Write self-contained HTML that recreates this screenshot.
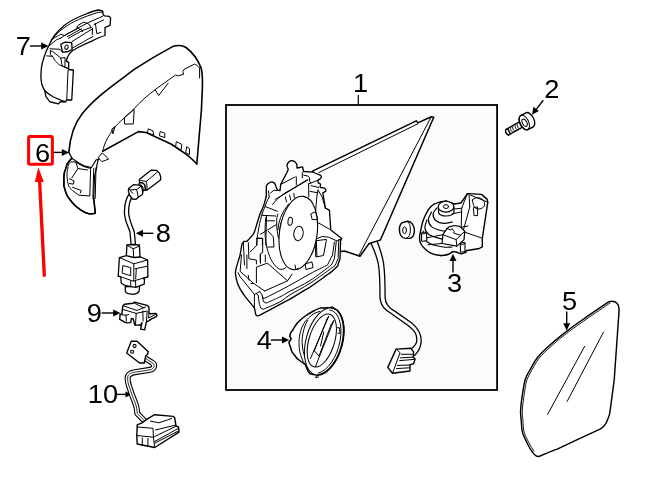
<!DOCTYPE html>
<html><head><meta charset="utf-8"><title>Mirror parts diagram</title>
<style>
html,body{margin:0;padding:0;background:#fff;width:646px;height:479px;overflow:hidden}
svg{display:block;position:absolute;left:0;top:0;will-change:transform}
text{font-family:"Liberation Sans",sans-serif;font-size:25px;fill:#000}
.s{fill:none;stroke:#000;stroke-width:1.3;stroke-linejoin:round;stroke-linecap:round}
.w{fill:#fff;stroke:#000;stroke-width:1.3;stroke-linejoin:round;stroke-linecap:round}
.t{fill:none;stroke:#000;stroke-width:1;stroke-linejoin:round;stroke-linecap:round}
.k{fill:none;stroke:#000;stroke-width:1.6;stroke-linejoin:round;stroke-linecap:round}
</style></head>
<body>
<svg width="646" height="479" viewBox="0 0 646 479">
<!-- box around part 1 -->
<rect x="226" y="105" width="271.1" height="285" fill="#fbfbfb" stroke="#000" stroke-width="1.8"/>
<line x1="358.3" y1="95" x2="358.3" y2="105" stroke="#000" stroke-width="1.2"/>

<!-- labels -->
<text transform="translate(15.87 55.0) scale(1.09 1)">7</text>
<text transform="translate(35.07 161.8) scale(1.09 1)">6</text>
<text transform="translate(155.67 241.9) scale(1.09 1)">8</text>
<text transform="translate(86.77 322.1) scale(1.09 1)">9</text>
<text transform="translate(87.86 403.0) scale(1.09 1)">10</text>
<text transform="translate(353.02 91.8) scale(1.09 1)">1</text>
<text transform="translate(544.3 98.4) scale(1.09 1)">2</text>
<text transform="translate(447.06 292.4) scale(1.09 1)">3</text>
<text transform="translate(256.75 348.8) scale(1.09 1)">4</text>
<text transform="translate(561.91 309.5) scale(1.09 1)">5</text>

<!-- arrows -->
<g stroke="#000" stroke-width="1.4" fill="#000">
<line x1="30" y1="46" x2="42" y2="46"/><path d="M48.5 46 L41.2 42.5 L41.2 49.5Z" stroke="none"/>
<line x1="51.5" y1="152.4" x2="63" y2="152.4"/><path d="M69 152.4 L61.8 148.9 L61.8 155.9Z" stroke="none"/>
<line x1="153.4" y1="233.3" x2="141" y2="233.3"/><path d="M135.8 233.3 L143 229.8 L143 236.8Z" stroke="none"/>
<line x1="101.6" y1="313" x2="114" y2="313"/><path d="M120.4 313 L113.2 309.5 L113.2 316.5Z" stroke="none"/>
<line x1="116.5" y1="394.4" x2="126" y2="394.4"/><path d="M131.2 394.4 L125.5 391.2 L125.5 397.6Z" stroke="none"/>
<line x1="270.8" y1="340" x2="283" y2="340"/><path d="M289.2 340 L282 336.5 L282 343.5Z" stroke="none"/>
<line x1="453" y1="272.5" x2="453" y2="260"/><path d="M453 253.8 L449.5 261 L456.5 261Z" stroke="none"/>
<line x1="566.7" y1="311.6" x2="566.7" y2="324"/><path d="M566.7 330.4 L563.2 323.2 L570.2 323.2Z" stroke="none"/>
<line x1="543.3" y1="100.3" x2="536" y2="109.6"/><path d="M532 114.7 L533.4 106.8 L538.9 111.1Z" stroke="none"/>
</g>

<!-- red highlight -->
<rect x="28.6" y="136.5" width="23.8" height="27.8" rx="1.2" fill="none" stroke="#ff0000" stroke-width="3"/>
<line x1="39.6" y1="181" x2="44.3" y2="275.3" stroke="#ff0000" stroke-width="3.3" stroke-linecap="round"/>
<path d="M38.3 167.2 L34.9 182 L43.8 182Z" fill="#ff0000"/>

<!-- PART 6 mirror cover -->
<g id="p6">
<path class="k" d="M68.8 152.5 C70 138 74 124 82 114 C96 96 118 82 134.6 69.2 C150 59 163 51.7 172.6 46.6 C178 44.8 183 45.5 186 47.5 C192 52 198 60 201 67.8 C203 74 202.6 82 202.3 90 L201.4 110 L196.8 164"/>
<path class="k" d="M196.8 164 C192 159 188 155.5 185.2 153.7 C180 150 175 146.5 169.9 143.5 L146.1 132.5 L138.4 131.6 L102.7 151.2"/>
<path class="t" d="M199.6 67.8 C198 66 196 64.5 194.5 64.1 L184.3 69.2 L182.8 71.4 L183.6 74.3 L178.4 75.8 L175.5 75.1 L168.2 80.2 L155.1 89.7 L158.7 95.5 L168.2 83.1 M155.1 89.7 C148 95 140 102 134.2 108.6 C126 117 119 122 115.4 126.5 C111 132 109 136 107.8 137.6 C105 143 103.5 147 102.7 151.2"/>
<path class="t" d="M199.6 68 L199.6 78"/>
<path class="t" d="M124.8 117.1 L134.2 109.5 L133.3 124 L124.8 124Z"/>
<path class="t" d="M112 129 L115 126.5 L113 133.5Z"/>
<path class="t" d="M148.6 129 L152.9 130.8 L153.7 135 L147.8 133.3Z M160.6 131.6 L164.8 133.3 L164.8 137.6 L159.7 135.9Z M176.7 141.8 L181.8 144.4 L181 150.3 L175.9 147Z M186.9 146.9 L189.5 148.6 L189.5 154.6 L186.1 152.9Z"/>
<!-- lower rounded part -->
<path class="s" d="M68.6 152 L71.8 157.8"/>
<path class="w" style="stroke-width:1.2" d="M71.8 158.3 C68 162 66.3 165 66.3 167 C64.5 171 63.9 174 63.9 176.3 L63.9 185.8 C65 190 66 194 67.8 196.7 C70 200 73 203.5 75.7 206.1 C79 209 82 211 85.1 212.4 C88 213.5 90 214 91.3 214 L95.3 213.2 L93.7 198.3 L94.5 176.3 L96.8 167 L96.8 165.4 L98.4 159.1 L100.8 158.3 L96 160 L91.3 167.7 L85 166.2 L78.8 163 Z"/>
<path class="k" d="M71.8 158.3 C68 162 66.3 165 66.3 167 C64.5 171 63.9 174 63.9 176.3 L63.9 185.8 C65 190 66 194 67.8 196.7 C70 200 73 203.5 75.7 206.1 C79 209 82 211 85.1 212.4 C88 213.5 90 214 91.3 214 L95.3 213.2 L93.7 198.3"/>
<path class="t" d="M93.7 168.5 L92.9 198.3 M96 167.7 L95.2 198.3"/>
<path class="t" d="M70.2 162.2 C68.5 164 67.8 166 67.8 168.5 C67 171 67 174 67 176.3 C67.3 180 67.8 183 68.6 185.8 C70 188 71 189.5 72.5 190.5 C75 192.5 77 194 78.8 195.2 L89.8 196 L90.6 168.5 L82.7 166.2 L75.7 162.2 Z"/>
<path class="t" d="M75.7 162.2 L78 168.5 L87.4 170 M78 168.5 L71.8 177.9 M69.4 178.7 L74.1 181 L73.3 184.2 L69.5 183.5 M72.5 187.3 L81.2 190.5 L80.4 192.8"/>
<path class="w" style="stroke-width:1" d="M98.4 157.5 L102.3 152.8 L108.6 159.1 L102.3 161.5 Z"/>
</g>

<!-- PART 7 -->
<g id="p7">
<path class="w" d="M48.75 45.9 C51 39 55 33 64.2 25.4 C70 21 78 17 86 14 C91 12 95 10.5 98.2 10 L102.7 10.8 L103.2 14.9 L104.6 15.8 L109.2 16.3 L110.6 18.1 L110.1 25.4 L106.4 26.8 L105 27.3 L105 35.5 C100 37 96 39 91.7 41.1 C86 43.5 82 45.5 78 47.5 C75 49 72 51 70 53 L67.3 57.5 L66.3 60.9 L68.75 62.6 L68.5 69.5 L73.4 70 L71.75 100 L66.75 100 L65.5 101.75 L60.5 101.75 L58.4 103.8 L49.7 101.75 L45.9 96.3 L44.7 90.5 C43 87.5 42 85.5 41.75 83.8 C40.9 80 40.9 78 40.9 76.3 C41 70 41.5 65 42.9 61 C44 57 45.5 53 46.5 50.5 Z"/>
<path class="s" d="M44.7 90.5 C47 93 50 95 53 96.75 C56 98.3 58 99 60.5 100 L65.5 101.75"/>
<path class="t" d="M68 70.5 L66.75 100"/>
<path class="t" d="M50.5 42.5 C53 37 58 32 64.2 27.7 C72 22 83 17 98.2 12.4 L102.7 12.1"/>
<path class="t" d="M52.5 38.8 C56 37 58 36 60.8 34.2 L64.2 35.5 M60.8 38 C68 33 80 27 89.9 21.8 L102.7 16.3"/>
<path class="t" d="M77 27.3 L78 25.4 L83.5 22.2 L87.1 23.2 L89.9 25 L90.4 27.7 L91.7 27.3 L92.6 28.7 L92.2 34.6 M77 27.3 C78 28 80 29.5 82.5 30.5 L90.4 27.7 M82.5 30.5 L82.5 31.6"/>
<path class="t" d="M77.5 28.7 L64.2 35.5 M82.5 30.5 L68.3 38.3 M81.5 28.8 L67.3 36.6"/>
<path class="t" d="M72.1 41.5 L92.6 28.7 M72.4 48 C80 44 88 39 93 36.5"/>
<path class="t" d="M94 24.5 L103.7 19.9 M95.4 23.6 L96.8 33.7 L100.9 32.3"/>
<path class="t" d="M49 45.8 L56.7 39.7 L60.8 38 M50 48.8 L60 49.25 L62.5 52.2"/>
<path class="w" d="M60.8 44.25 L65 42.2 L71.7 42.6 L72.1 49.7 L67.5 51.75 L62.5 52.2 Z"/>
<ellipse cx="66.5" cy="47.2" rx="1.6" ry="2.2" transform="rotate(20 66.5 47.2)" class="t"/>
<path class="t" d="M50.4 50.9 L52.5 51.3 L60.8 58 L62 65.5 L65 67.2 L69.2 69.25 M50.4 50.9 L50.4 54.7 L52.5 56.3 L46.7 55.9 M52.5 56.3 C54 59 55 61 56.7 62.2 C58 64 59.5 65 60.8 65.5 L69.2 68.8 M60.8 58 L65 57.6 L65 66.75"/>
</g>

<!-- PART 8 -->
<g id="p8">
<path class="s" d="M129.6 193.4 C126 198 124.5 204 124.4 212 C124.3 220 128 226 130 232 L131.2 246"/>
<path class="s" d="M133.8 194.4 C130 199 128.6 205 128.6 212 C128.6 219 132 225 134.3 232 L135.6 246"/>
<path class="w" d="M139.3 179.6 L151.3 170.1 L156.4 170.3 L159.4 173 L160.8 177.1 L160.5 180 L146.9 190.2 L145.1 190.2 L145.1 187 L144.4 184.4 L142.5 182.9 L139.6 182.5 Z"/>
<path class="t" d="M140.7 180.4 L146.2 181.5 L157.2 172.3 M146.2 181.5 C147 184 147.2 187 146.9 190.2"/>
<path class="w" d="M139.6 182.5 L142.5 182.9 L144.4 184.4 L145.1 187 L145.1 190.2 L143.3 190.5 L142.5 192 L140.5 191 L138.9 185.1 Z"/>
<path class="t" d="M140.7 184.4 L142.9 187 L143.3 190.2"/>
<path class="w" d="M128.7 188.4 L133.4 184.7 L138.9 185.1 L141.1 186.2 L142.2 189.1 L142.9 192.8 L141.8 195 L138.2 197.2 L136 199.4 L132.5 199 L129.5 195 L128.3 190.6 Z"/>
<path class="t" d="M128.7 188.4 L130 190 L136.7 189.5 L141.1 186.2 M136.7 189.5 L138.2 197.2 M130 190 C131 191.5 132 193 133 193.5"/>
<path class="w" d="M126.9 245 L133 244.5 L139.4 245 L140 257 L133.8 260 L126.3 257 Z"/>
<path class="t" d="M126.9 245 L133.2 248.8 L139.4 246 M133.2 248.8 L133.8 260"/>
<path class="w" d="M125.3 286.7 L139.6 285.8 L139.2 291 C138.5 292.5 136 294 133.7 294.3 L128.1 293.7 C126.5 293 125.5 292.3 125.3 291.4 Z"/>
<path class="w" d="M119.4 257.6 L126.3 255.7 L133.8 257.5 L140.7 257 L147.6 260 L147.9 276.8 L143 278.4 L144.5 279.3 L144.2 284.2 L139.6 285.8 L135.8 287.3 L130.9 286.7 L125 285.5 L121.3 283.3 L120.7 276.8 L118.2 276.2 Z"/>
<path class="t" d="M119.4 257.6 L133.8 263.8 L147.6 260 M133.8 263.8 L133.8 281.4 M118.2 276.2 L120.7 276.8 L133 281.1 L147.9 276.8 M130.6 281.1 L130.9 286.7 M135.5 281.1 L135.8 287.3 M125.3 286.7 L130.9 286.7"/>
<path class="t" d="M123.2 265.7 L130.7 267.6 L130.7 275.7 L122.5 273.2 Z"/>
<path class="t" d="M135 268.8 L147 266.3 M136.3 268.8 L135.7 278.9"/>
</g>

<!-- PART 9 -->
<g id="p9">
<path class="w" style="stroke-width:1.4" d="M122.7 306.5 C123 305.3 123.6 304.6 124.5 304.3 L133.3 303.2 L134.4 302.1 L147.1 305.4 L148.6 306.5 L149 308 L149 313.1 L150.8 313.8 L155.9 313.4 L157 315.3 L156.3 316.7 L151.5 318.9 L148.2 321.1 L146.4 321.8 L144.6 329.9 L140.6 329.1 L142 322.6 L140.9 324.8 L136.9 325.1 L134.7 325.1 L133.3 318.9 L131.4 318.5 L130.7 322.6 L127.4 322.9 L124.5 322.2 L121.6 320.4 L119.7 319.3 L120.1 314.5 L121.9 313.8 L122.3 310.5 Z"/>
<path class="t" d="M123.4 305.8 L136.9 310.5 L145.7 306.9 M134.7 303.2 L143.9 308 M122.7 309.4 L136.2 313.4 L147.1 311 M136.2 313.4 L135.5 324.8 M142.8 310.9 L143.1 321.1 M147.1 311.6 L146.4 321.8 M120.1 314.5 L126 315.3 L128.5 314.5 M126 315.3 L126.3 321.1 M149 313.1 L148.5 318 L156.3 314"/>
</g>

<!-- PART 10 -->
<g id="p10">
<path d="M145.5 358.5 L152 362.5 C155.5 364.5 154.5 369 150 369.8 L135 372.2 C130 373 127.8 374.5 127.6 378 C127.6 381 128 383 129 386 L132.4 396 C134.5 401 136.3 405 136.8 409 L137.3 413.5 L148 424.5" fill="none" stroke="#000" stroke-width="6" stroke-linejoin="round"/>
<path d="M145.5 358.5 L152 362.5 C155.5 364.5 154.5 369 150 369.8 L135 372.2 C130 373 127.8 374.5 127.6 378 C127.6 381 128 383 129 386 L132.4 396 C134.5 401 136.3 405 136.8 409 L137.3 413.5 L148 424.5" fill="none" stroke="#fff" stroke-width="3.8" stroke-linejoin="round"/>
<path d="M145.5 358.5 L152 362.5 C155.5 364.5 154.5 369 150 369.8 L135 372.2 C130 373 127.8 374.5 127.6 378 C127.6 381 128 383 129 386 L132.4 396 C134.5 401 136.3 405 136.8 409 L137.3 413.5 L148 424.5" fill="none" stroke="#000" stroke-width="0.8" stroke-linejoin="round"/>
<path class="w" style="stroke-width:1.4" d="M131.25 341.3 L137.1 341.3 L148.3 351.75 L147.5 354.25 L145.8 355.9 L144.2 363 L139.6 363 L126.7 353 Z"/>
<circle cx="134.6" cy="345.9" r="1.5" class="t" style="stroke-width:1.1"/>
<circle cx="132.1" cy="351.75" r="1.5" class="t" style="stroke-width:1.1"/>
<path class="w" style="stroke-width:1.4" d="M137.2 424.9 L141.9 422.8 L148.7 418.1 L154.7 414.7 L173.4 416.4 L174.7 417.7 L176 426.2 L178.5 427 L179 432.1 L154.7 447.5 L137.2 444 L136.8 435.5 L137.2 427 Z"/>
<path class="t" d="M150.4 421.1 L159 422.8 L171.7 418.5 M137.2 427 L153 428.3 L153.4 437.2 M136.8 435.5 L153.4 437.2 M142.3 438 L142.3 445.8 M147.9 438.5 L147.9 446.5 M153.4 437.2 L154.7 447.5 M155.5 430 L174.7 425.3 M154.7 441.5 L178.5 428.3 M154.7 443.2 L178.5 430.9 M153.4 437.2 L176 426.2"/>
<path d="M142 410 L149.5 424" fill="none" stroke="#000" stroke-width="0"/>
</g>

<!-- PART 1 housing -->
<g id="p1">
<!-- glass backing triangle -->
<path class="w" style="stroke-width:1.5" d="M312.5 171.1 L416.25 120.8 L417.9 122.9 L431.25 116.8 L433.75 117.3 L380.4 240 L376.7 241.1 L368.9 243.7 L360 256.2 L344.4 251 L341.3 251.5 L330 240 Z"/>
<path class="t" d="M318.8 172.6 L417.9 123.75 M430.4 118.3 L359 255.2 M431.25 116.8 L430.4 118.3"/>
<!-- cable -->
<path class="s" d="M371 243.2 C374 250 377 256 378.5 265 C380 275 380 285 380 297.6 C380.5 302 381.5 305 383.8 307.7 C386 310 388 311.5 390.1 312.7 L407.7 325.2 C411 328 413.5 330 415.2 332.8 C416.6 335.5 417 338 416.8 341 C416.4 344 414 346.5 411.6 348.5"/>
<path class="s" d="M377.3 241.6 C380 249 382 254 383.5 263 C385 273 385.1 285 385.1 297.6 C385.3 301 386 303 387.6 305.2 C389.5 308 392 310 395.1 311.4 L411.4 322.7 C414.5 325 417 328 419 331.5 C420.7 335 421.3 338 421.2 341 C421 346 418 352 414.7 355.5"/>
<!-- connector -->
<path class="w" style="stroke-width:1.4" d="M396.1 349.1 L410.8 348.3 L413.6 351.9 L413.2 357.1 L415.1 359 L413.6 363.8 L410 364.6 L410 371 L392.5 373.3 L387.8 367.4 Z"/>
<path class="t" d="M396.1 349.1 L400.1 352.7 L392.5 373.3 M401.3 354.3 L412.4 354.3 M400.5 357.9 L413.2 357.1 M399.7 360.6 L414.3 359.4 M397.3 365.4 L410 365 M396.5 368.6 L409.2 367.8"/>
<!-- housing body -->
<path fill="#fff" stroke="none" d="M266.3 196.3 L266.3 186.3 C267 184.5 268 183.5 268.8 183.2 C270 182 271 181.9 271.9 181.9 C273.5 182.3 274.5 183 275 183.8 L276.3 187.6 L277.5 190.1 L280 190.7 L280.7 184.4 L286.9 172.5 L288.2 169.4 L286.9 165.6 C287.3 163.5 288 162.5 288.8 161.9 C290 160.9 291 160.6 291.9 160.6 C293.5 160.9 294.5 161.4 295.1 161.9 C296.3 163 296.8 164 297 165 L297 168.1 L299.5 167.5 L302.6 166.9 L303.6 171.5 L313.4 172.1 L321.4 175.5 L322 177.8 L319.7 179 L319.7 187.6 L324.9 188.7 L326 191 L322.6 192.1 L325.4 208.2 L329.4 210.1 L330.8 229.9 L341.8 238.6 L340.6 240 L340 258.8 L337.5 266.3 L331.3 271.9 C324 277 317 282.5 310 287.1 C303 291 297 295 290 299.2 C286.5 301 283 302.8 279.9 304.4 C273 308 266 312 258.1 315.9 L256.6 315.6 L255.8 314.7 L254.4 307.9 L245.6 297.1 C243 293.5 241.2 291 240.1 288.9 C238.5 286 237.4 283.5 236.8 280.8 C235.8 277 235.4 275 235.4 272.6 C235.6 270 236 268 236.8 265.9 L240.1 255 L242 243.8 L243.9 241.3 L247 241.3 L252.7 235.1 L254.5 231.9 L259.6 215 L263.9 205 Z"/>
<path class="s" d="M313.3 172.2 L315 173 L320.7 175.4 L321.4 176.8 L320.7 178.6 L318.9 179.3 L317.9 180.4 L318.2 182.9 L320 183.6 L320.7 185 L320 186.4 L320.7 187.5 L324.6 188.2 L325.7 189.6 L325.7 191.4 L322.8 192.8 L325.4 208.2 L329.4 210.1 L330.8 229.9 L341.8 238.6 L340.6 240"/>
<path class="k" style="stroke-width:1.35" d="M266.3 196.3 L263.9 205 L259.6 215 L254.5 231.9 L252.7 235.1 L247 241.3 L243.9 241.3 L242 243.8 L240.1 255 L236.8 265.9 C236 268 235.6 270 235.4 272.6 C235.4 275 235.8 277 236.8 280.8 C237.4 283.5 238.5 286 240.1 288.9 C241.2 291 243 293.5 245.6 297.1 L254.4 307.9 L255.8 314.7 L256.6 315.6 L258.1 315.9 C266 312 273 308 279.9 304.4 C283 302.8 286.5 301 290 299.2 C297 295 303 291 310 287.1 C317 282.5 324 277 331.3 271.9 L337.5 266.3 L340 258.8 L340.6 240"/>
<path class="k" style="stroke-width:1.35" d="M266.3 196.3 L266.3 186.3 C267 184.5 268 183.5 268.8 183.2 C270 182 271 181.9 271.9 181.9 C273.5 182.3 274.5 183 275 183.8 L276.3 187.6 L277.5 190.1 L280 190.7 L280.7 184.4 L286.9 172.5 L288.2 169.4 L286.9 165.6 C287.3 163.5 288 162.5 288.8 161.9 C290 160.9 291 160.6 291.9 160.6 C293.5 160.9 294.5 161.4 295.1 161.9 C296.3 163 296.8 164 297 165 L297 168.1 L299.5 167.5 L302.6 166.9 L303.6 171.5 L313.4 172.1"/>
<!-- rim lines -->
<path class="t" d="M254.4 294.4 L254.4 307.9 M256.4 293.7 L258.1 295 L259.4 304.4 L260.9 308.1 L263.1 309.4 L263.1 309.4 C265.9 308.1 275.4 304.3 279.9 301.9 C284.4 299.5 285.0 297.9 290.0 294.8 C295.0 291.7 302.5 288.2 310.0 283.3 C317.5 278.4 330.8 268.6 335.0 265.6 L338.1 258.8 L338.8 240 M259.8 291.6 L262.2 295 L262.8 299.4 L263.75 301.9 L266.25 303.1 L266.2 303.1 C268.5 302.1 275.9 298.9 279.9 296.9 C283.9 294.9 285.0 294.0 290.0 291.2 C295.0 288.5 303.1 285.0 310.0 280.6 C316.9 276.2 327.8 267.6 331.3 265.0 L334.4 258.8 L336.3 241.3 M262.5 296 L263.4 298.75 L263.4 298.8 C264.7 298.1 266.8 297.3 271.2 295.0 C275.7 292.7 283.5 288.7 290.0 285.2 C296.5 281.7 303.8 277.2 310.0 273.8 C316.2 270.4 324.6 266.5 327.5 265.0 L332.5 255 L334.4 241.9 M264.6 291 L287.6 280.8 L292 274.2 M341.8 238.6 L336.7 240.8 L328.6 237.2 L322.1 236.5 L316.9 238.6"/>
<path class="t" d="M238.1 272.6 L240.1 276.7 L254.4 294.4 L259.8 291.6 M241.5 255 L240.1 271.3 L253.7 283.5 L264.6 291 M253.7 283.5 L251 283.5"/>
<!-- floor -->
<path class="t" d="M256.4 282.8 L256.4 267.2 L267.3 263.1 L287.6 280.8 M246.9 255 L246.9 268.6 M248.3 275.4 L249 280.1 M260.5 255 L260.5 263.1 M265.3 255 L265.3 262"/>
<!-- left wall internals -->
<path class="t" d="M243.3 242.6 L244.5 265 M248.3 242.6 L248.9 258.8 L256.4 260.1 L256.4 264 M250.2 252 L257 245.1 L257 238.2 L262.7 238.2 L262.7 252.6 L260.2 253.8 L260.2 261.4 M268.3 231.3 L273.3 236.9 L274 247 L267.7 247"/>
<path class="t" d="M268.5 190.9 L269.2 197 M270.6 192.9 L274 190.2 L276.7 190.5 M269.2 197 C267.5 200 266 203 265.1 206.5 C263.5 209.5 262.5 212.5 261.7 215.3 C260.8 218 260.2 221 259.7 223.5 C259 227 258.2 231 257.7 234.3 L257 239.8 L256.6 245 M265.1 206.5 L277.4 211.3 M261.7 215.3 L276 216 M266.5 216 L265.8 245 M260.4 234.3 L276 224.8 M267.2 220.8 L274.6 220.8 M256.3 238.4 L262.4 238.4 L262.4 245 M272.6 204.5 C275 201 278 198.5 280.8 196.3 C283.5 194 286 192 288.9 190.9 M278 214 C277 216.5 276.5 219 276.7 220.8 C276.5 226 277 232 278.5 238"/>
<path class="t" d="M281.3 195.7 L307.2 179.7 M275 199.5 L307.9 180 M280.7 184.4 L295.1 176.9 M296.3 176.9 L296.3 185 M302.3 172.5 L302.3 177.9 M303.7 175.1 L307.9 176.1 L309.4 177.5 L309.7 181.5 L310.8 183.2 M309.4 183.6 L319.3 179.7 M308.6 183.6 L308.8 197 M311.1 185.7 L318.9 187.5 M310.1 191.4 L317.9 192.8 M317.9 190 L316.8 197 L315.7 210.5 M318.3 190.3 L322.1 197 L325.4 208.2"/>
<path class="t" d="M285.4 197 L286.5 202 M289.6 195 L290.8 200 M293.8 193.3 L294.3 197.5"/>
<!-- right wall internals -->
<path class="t" d="M330.8 229.9 L316.9 222 L317.7 219.6 L312.6 219.6 L311.1 213.8 L315.5 211.6 M315.5 240.8 L326.5 239.4 L323.5 255.5 L316.2 256.9 Z M316.3 240 L316.9 256.3 M305.6 263.8 L311.9 261.9 L313.1 267.5 L306.3 269.4 Z"/>
<!-- disc -->
<path class="t" d="M290.9 205 C284 213 280 222 279.6 232 C279 242 281 251 284.6 257.6 C286 260 287 262.5 288.4 265 M288.8 203.8 C281.3 213 278.3 222 278 230 M265.8 217.5 C265 225 265 230 265.2 236.3 C266 244 267 249 268.3 252.6 C270 258 272 262 274.6 265 C277 268 281 272 286.3 267.2"/>
<ellipse cx="298.3" cy="233" rx="18.8" ry="37" transform="rotate(8 298.3 233)" class="w" style="stroke-width:1.1"/>
<ellipse cx="298.5" cy="233.5" rx="4.7" ry="7.2" transform="rotate(8 298.5 233.5)" class="t"/>
<ellipse cx="290.2" cy="221.3" rx="2.2" ry="4" transform="rotate(8 290.2 221.3)" class="t"/>
<path class="t" d="M311.1 213.8 L315.5 211.6 L317.7 219.6 L312.6 219.6 Z M295 265 L296 270 L298 268"/>
</g>

<!-- washer -->
<path class="w" style="stroke-width:1.4" d="M403.75 222.2 L407.5 221.3 C411.5 221.3 414.4 225.5 414.4 230.6 C414.4 235.5 412 238.3 409.5 238.4 L405.6 238.4 C401.8 238.4 399.4 234.6 399.4 230 C399.4 225.5 401.3 222.5 403.75 222.2 Z"/>
<path class="t" d="M407.5 221.3 C409.5 222.5 410.4 226 410.4 230 C410.4 234.5 409 237.5 406.5 238.3"/>
<ellipse cx="404.6" cy="230.3" rx="1.9" ry="3.4" class="t"/>

<!-- PART 3 motor -->
<g id="p3">
<path class="w" style="stroke-width:1.4" d="M467.4 193.6 L481.5 194.4 L487 199.1 L487.8 202.2 L482.3 238.3 L482.3 246.9 L479.2 248.5 L465.9 250.8 L465.9 252.4 L461.2 253.9 L456 252 L452.5 251.6 L448.6 254.2 L440.7 255.5 L446 200.9 L454 204 L461 203 Z"/>
<path class="t" d="M469 194.4 L469.8 206.9 M470.6 195.2 L487.8 202.2 M467.4 193.6 L461.7 208.2 L461.2 227.3 M469.8 206.9 L463.5 229.7"/>
<path class="t" d="M472.5 200 C474 197.5 478 197 481 198.5 C484 200 485 203 484.5 205.5 C483.5 208 481 209 478 209 C475 209 473 206 472.5 200 Z M473.7 207.7 L477.6 206.9 L477.6 215.6 L474.5 215.6 Z"/>
<path class="t" d="M461.2 227.3 L468 226 M464.3 232 L482.3 238.3"/>
<path fill="#fff" stroke="none" d="M446.0 200.9 C445.0 201.1 442.0 201.4 440.0 202.0 C438.0 202.6 435.9 203.2 434.1 204.2 C432.4 205.2 430.9 206.4 429.5 208.2 C428.1 209.9 426.7 212.5 425.6 214.7 C424.5 216.9 423.7 218.9 422.9 221.3 C422.1 223.7 421.6 226.6 421.0 229.2 C420.4 231.8 419.7 234.9 419.6 237.1 C419.5 239.3 419.6 240.7 420.3 242.4 C421.0 244.2 422.0 245.8 423.6 247.6 C425.2 249.3 427.4 251.6 430.2 252.9 C433.0 254.2 437.6 255.3 440.7 255.5 C443.8 255.7 446.6 254.8 448.6 254.2 C450.6 253.5 451.9 252.0 452.5 251.6 L446 230 Z"/>
<path class="s" style="stroke-width:1.4" d="M446.0 200.9 C445.0 201.1 442.0 201.4 440.0 202.0 C438.0 202.6 435.9 203.2 434.1 204.2 C432.4 205.2 430.9 206.4 429.5 208.2 C428.1 209.9 426.7 212.5 425.6 214.7 C424.5 216.9 423.7 218.9 422.9 221.3 C422.1 223.7 421.6 226.6 421.0 229.2 C420.4 231.8 419.7 234.9 419.6 237.1 C419.5 239.3 419.6 240.7 420.3 242.4 C421.0 244.2 422.0 245.8 423.6 247.6 C425.2 249.3 427.4 251.6 430.2 252.9 C433.0 254.2 437.6 255.3 440.7 255.5 C443.8 255.7 446.6 254.8 448.6 254.2 C450.6 253.5 451.9 252.0 452.5 251.6"/>
<path class="t" style="stroke-width:1.2" d="M436.7 208.2 C436.1 209.1 433.4 211.5 433.2 213.5 C433.0 215.5 433.7 218.6 435.4 220.2 C437.1 221.8 440.4 223.0 443.3 223.3 C446.2 223.6 451.0 222.2 452.5 222.0"/>
<path class="t" style="stroke-width:1.2" d="M431.5 212.1 C431.0 213.3 428.4 217.1 428.4 219.5 C428.4 221.9 429.4 224.8 431.5 226.6 C433.6 228.4 437.8 229.7 440.7 230.5 C443.6 231.3 447.3 231.1 448.6 231.2"/>
<path class="t" style="stroke-width:1.2" d="M426.9 220.0 C426.6 221.3 424.6 225.5 424.9 227.9 C425.2 230.3 426.4 232.8 428.8 234.5 C431.2 236.2 436.9 237.6 439.4 238.4 C441.9 239.2 443.2 239.3 444.0 239.5"/>
<path class="t" style="stroke-width:1.2" d="M423.2 231.0 C423.4 232.2 423.0 236.3 424.2 238.4 C425.4 240.5 427.0 242.3 430.2 243.7 C433.4 245.1 439.7 246.4 443.3 247.0 C446.9 247.6 450.6 247.0 452.0 247.0"/>
<path class="w" style="stroke-width:1.2" d="M438.3 206.8 L438.7 213.1 C440 215 443 216 446 216 C450 215.8 453 214.5 453.9 213 L453.9 206.8 Z"/>
<ellipse cx="446" cy="206.8" rx="7.9" ry="5.3" class="w" style="stroke-width:1.2"/>
<ellipse cx="446" cy="206.6" rx="2.6" ry="1.9" class="t"/>
<path class="t" d="M453.9 209 L461.7 208.2 M452 214 L461 212"/>
<path class="w" style="stroke-width:1.2" d="M442.9 234.7 L446.9 228.6 L449.1 226.8 L454.3 225.5 L459.6 226.4 L464.8 231.2 L464 239.6 L456.9 246.1 L442 243.5 Z"/>
<path class="t" d="M442.9 234.7 L456.1 239.6 L464.8 231.2 M456.1 239.6 L456.9 246.1 M446.9 228.6 L450.8 229.9 L452 228.6 L454.3 231.7 L453.5 233 L460.5 235.2 M428 244.8 L442 243.5 M426.9 237.8 L442.9 234.7"/>
<path class="w" style="stroke-width:1.1" d="M421.6 233.2 C422.5 232 425.5 232 426.2 232.5 L426.9 239.7 C426 241.2 422.5 241.5 421.6 241.1 Z"/>
<path class="t" d="M421.6 233.2 C422.5 234.3 425.5 234.2 426.2 232.5"/>
<path class="w" style="stroke-width:1.1" d="M460.4 243.7 C461 242.5 464.5 242.3 465 243 L465 250.9 C464.2 252.3 461 252.3 460.4 251.6 Z"/>
<path class="t" d="M460.4 243.7 C461.3 245 464.3 244.8 465 243"/>
</g>
<!-- PART 4 -->
<g id="p4">
<path class="w" style="stroke-width:1.5" d="M330.8 307.8 L320 308.1 C317.5 309 315 310 313.1 311.25 C310 313 307.5 314.5 305.3 316 C303.5 317.3 302 318.5 300.6 319.8 C299 321 297.8 322.5 296.7 323.75 C295 326 293.8 328 292.8 330 L290.5 333.1 L289.7 336.25 L291.25 338.6 L288.9 342.5 L290.5 347.2 C290.8 349 291.3 350.5 292 351.9 L294.4 355 C295.5 356.5 296.5 357.8 297.5 358.9 L300.6 361.25 L305.3 364.4 L307.7 370.6 L310 373.75 L313.1 374.5 L317.8 375 L322 345 Z"/>
<path class="t" d="M320 311.25 C318 312 316 312.7 313.9 313.6 C311 315.5 309 317.5 306.9 319.8 C305.5 321 304.5 322.3 303.75 323.75 C302 327 301 329 300.6 331.6 C299.5 335 299 338.5 299 342.5 C299 346 299.2 349 299.8 351.9 C300.8 355.5 301.8 358.5 303 361.25 C304.3 363.5 305.5 365.5 306.9 367.5"/>
<path class="t" d="M307.5 320.5 C305 324.5 303 331 302.2 338 C301.8 344 302.5 350 304.5 356 C305.5 359 307 362 308.5 364.5"/>
<ellipse cx="324.3" cy="341.4" rx="18.3" ry="34.5" transform="rotate(15.4 324.3 341.4)" class="w" style="stroke-width:1"/>
<path class="k" style="stroke-width:1.6" d="M330.8 307.8 A18.3 34.5 15.4 0 1 317.8 375"/>
<path class="t" d="M329.8 310 A17 32.5 15.4 0 1 318.5 373"/>
<ellipse cx="321.8" cy="340.5" rx="12.8" ry="27.5" transform="rotate(17 321.8 340.5)" class="t"/>
<path class="t" d="M328.7 316.4 L310.5 358.4 M326.8 319.5 L314.3 350.9 M333.8 320.5 L315.5 366.5 M331.2 324.5 L319 356 M323.7 332 L320.6 345.9 M314.3 350.9 L319 356 M326.8 319.5 L328.7 316.4 M331.2 324.5 L333.8 320.5"/>
<path class="t" d="M337.5 327.7 L339.4 327.7 L340 333.3 L338.1 333.3"/>
<path class="t" d="M330 307.3 L333 306.8 L334.5 309.5 M317.5 375 L315.5 377.5 L318.5 377"/>
</g>

<!-- PART 2 bolt -->
<g id="p2">
<path class="w" style="stroke-width:1.3" d="M506.3 129.2 L522.0 120.2 L524.8 125.7 L509.1 134.8 A1.8 3.1 -26.6 0 1 506.3 129.2 Z"/>
<ellipse cx="507.7" cy="132.0" rx="1.8" ry="3.1" transform="rotate(-26.6 507.7 132.0)" class="t"/>
<path class="t" style="stroke-width:0.9" d="M508.6 128.1 A1.8 3.1 -26.6 0 0 511.4 133.6 M511.0 126.9 A1.8 3.1 -26.6 0 0 513.7 132.4 M513.3 125.7 A1.8 3.1 -26.6 0 0 516.1 131.3 M515.6 124.6 A1.8 3.1 -26.6 0 0 518.4 130.1 M517.9 123.4 A1.8 3.1 -26.6 0 0 520.7 129.0 "/>
<path class="w" style="stroke-width:1.4" d="M520.8 115.4 L526.0 112.8 A4.3 7.9 -26.6 0 1 533.0 127.0 L527.8 129.6 A4.3 7.9 -26.6 0 1 520.8 115.4 Z"/>
<ellipse cx="524.3" cy="122.5" rx="4.3" ry="7.9" transform="rotate(-26.6 524.3 122.5)" class="t"/>
<ellipse cx="524.6" cy="122.8" rx="2.2" ry="4" transform="rotate(-26.6 524.6 122.8)" class="t"/>
</g>

<!-- PART 5 glass -->
<g id="p5">
<path class="k" style="stroke-width:1.45" d="M609.0 301.7 C605.0 304.4 591.8 313.3 584.9 318.1 C578.0 322.9 573.3 326.1 567.5 330.6 C561.7 335.1 555.0 340.5 550.0 345.0 C545.0 349.5 540.7 353.6 537.5 357.5 C534.3 361.4 532.7 365.1 530.7 368.7 C528.7 372.3 526.7 375.2 525.4 379.1 C524.1 383.0 523.6 387.1 522.8 392.2 C522.0 397.3 520.9 405.4 520.6 410.0 C520.3 414.6 520.9 416.3 521.2 420.0 C521.5 423.7 521.5 428.5 522.5 432.4 C523.5 436.3 525.8 440.2 527.4 443.5 C529.0 446.8 530.9 450.1 532.4 452.2 C533.9 454.3 535.1 455.2 536.1 455.9 C537.1 456.6 538.1 456.5 538.5 456.6 C546 453.5 552 451 557.2 449.1 L575.7 440.4 L600 429.2 C603 427.5 606 424 607.5 420 C609 416.5 609.8 414 610 411.7 L614.2 380 L619 311.7 C619.3 308 618.5 305 617 303.3 C615 301.3 612 300.9 609 301.7"/>
<path class="t" style="stroke-width:0.9" d="M610.0 303.1 C605.9 305.8 592.8 314.7 585.9 319.5 C579.0 324.3 574.3 327.5 568.5 331.9 C562.7 336.4 556.1 341.8 551.1 346.3 C546.2 350.7 542.0 354.7 538.8 358.6 C535.7 362.5 534.2 366.0 532.2 369.5 C530.2 373.0 528.3 375.8 527.0 379.6 C525.7 383.5 525.3 387.4 524.5 392.5 C523.7 397.5 522.6 405.5 522.3 410.1 C522.0 414.7 522.6 416.2 522.9 419.9 C523.2 423.5 523.1 428.2 524.1 432.0 C525.1 435.8 527.3 439.5 528.9 442.7 C530.5 445.9 533.0 449.8 533.8 451.2"/>
<path class="t" d="M584.6 346.4 L547.6 414.4 M603.4 332.3 L567.2 401.3"/>
</g>
</svg>
</body></html>
